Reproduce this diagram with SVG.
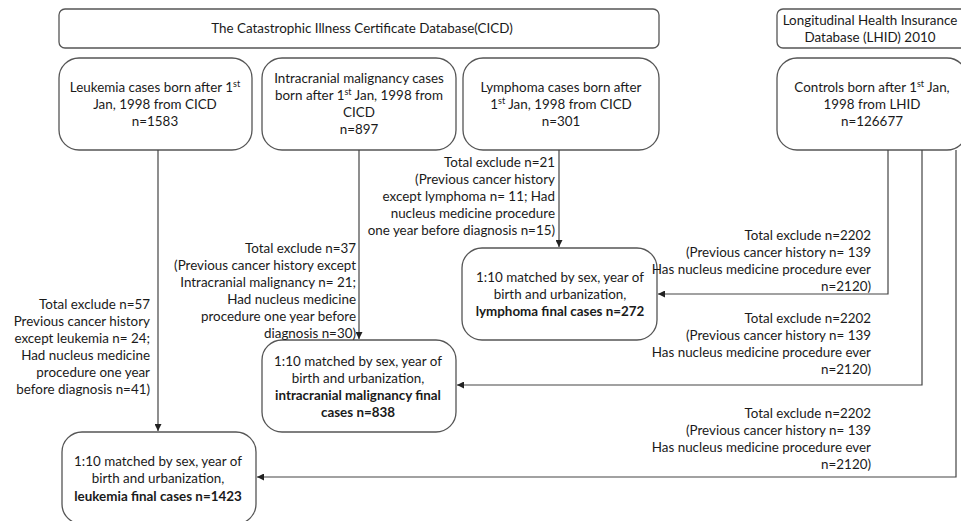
<svg xmlns="http://www.w3.org/2000/svg" width="961" height="521" viewBox="0 0 961 521">
<defs>
<marker id="arr" viewBox="0 0 10 10" refX="10" refY="5" markerWidth="7" markerHeight="7" markerUnits="userSpaceOnUse" orient="auto">
<path d="M0,0 L10,5 L0,10 z" fill="#222"/>
</marker>
<style>
.box{fill:#fff;stroke:#555;stroke-width:1.3}
.t{font-family:Lato,"Liberation Sans",sans-serif;font-size:13.4px;fill:#1a1a1a}
.c{text-anchor:middle}
.r{text-anchor:end}
.b{font-weight:bold}
.sup{font-size:9px}
.ln{fill:none;stroke:#444;stroke-width:1.2}
</style>
</defs>
<rect width="961" height="521" fill="#fff"/>

<g id="cicd">
<rect class="box" x="59" y="9" width="600" height="39" rx="6"/>
<text class="t c" x="362" y="33">The Catastrophic Illness Certificate Database(CICD)</text>
</g>
<g id="lhid">
<rect class="box" x="777" y="9" width="190" height="39" rx="6"/>
<text class="t c" x="870" y="25">Longitudinal Health Insurance</text>
<text class="t c" x="870" y="42">Database (LHID) 2010</text>
</g>

<g id="leukemia">
<rect class="box" x="59" y="58" width="193" height="92" rx="20"/>
<text class="t c" x="155" y="92">Leukemia cases born after 1<tspan class="sup" dy="-5">st</tspan></text>
<text class="t c" x="155" y="109">Jan, 1998 from CICD</text>
<text class="t c" x="155" y="126">n=1583</text>
</g>
<g id="intracranial">
<rect class="box" x="262" y="58" width="194" height="92" rx="20"/>
<text class="t c" x="359" y="83">Intracranial malignancy cases</text>
<text class="t c" x="359" y="100">born after 1<tspan class="sup" dy="-5">st</tspan><tspan dy="5"> Jan, 1998 from</tspan></text>
<text class="t c" x="359" y="117">CICD</text>
<text class="t c" x="359" y="134">n=897</text>
</g>
<g id="lymphoma">
<rect class="box" x="463" y="58" width="196" height="92" rx="20"/>
<text class="t c" x="561" y="92">Lymphoma cases born after</text>
<text class="t c" x="561" y="109">1<tspan class="sup" dy="-5">st</tspan><tspan dy="5"> Jan, 1998 from CICD</tspan></text>
<text class="t c" x="561" y="126">n=301</text>
</g>
<g id="controls">
<rect class="box" x="777" y="58" width="190" height="92" rx="20"/>
<text class="t c" x="872" y="92">Controls born after 1<tspan class="sup" dy="-5">st</tspan><tspan dy="5"> Jan,</tspan></text>
<text class="t c" x="872" y="109">1998 from LHID</text>
<text class="t c" x="872" y="126">n=126677</text>
</g>

<g id="lymphoma-final">
<rect class="box" x="462" y="248" width="195" height="92" rx="20"/>
<text class="t c" x="560" y="282">1:10 matched by sex, year of</text>
<text class="t c" x="560" y="299">birth and urbanization,</text>
<text class="t c b" x="560" y="316">lymphoma final cases n=272</text>
</g>
<g id="intracranial-final">
<rect class="box" x="262" y="340" width="194" height="92" rx="20"/>
<text class="t c" x="358" y="366">1:10 matched by sex, year of</text>
<text class="t c" x="358" y="383">birth and urbanization,</text>
<text class="t c b" x="358" y="400">intracranial malignancy final</text>
<text class="t c b" x="358" y="417">cases n=838</text>
</g>
<g id="leukemia-final">
<rect class="box" x="62" y="432" width="194" height="92" rx="20"/>
<text class="t c" x="158" y="466">1:10 matched by sex, year of</text>
<text class="t c" x="158" y="483">birth and urbanization,</text>
<text class="t c b" x="158" y="501">leukemia final cases n=1423</text>
</g>

<g id="connectors">
<line class="ln" x1="158" y1="150" x2="158" y2="431" marker-end="url(#arr)"/>
<line class="ln" x1="359" y1="150" x2="359" y2="339" marker-end="url(#arr)"/>
<line class="ln" x1="559" y1="150" x2="559" y2="247" marker-end="url(#arr)"/>
<polyline class="ln" points="888,150 888,294 658,294" marker-end="url(#arr)"/>
<polyline class="ln" points="922,150 922,385 457,385" marker-end="url(#arr)"/>
<polyline class="ln" points="956,150 956,477 257,477" marker-end="url(#arr)"/>
</g>

<g id="labels">
<text class="t r" x="555" y="167">Total exclude n=21</text>
<text class="t r" x="555" y="184">(Previous  cancer history</text>
<text class="t r" x="555" y="201">except lymphoma n= 11; Had</text>
<text class="t r" x="555" y="218">nucleus medicine procedure</text>
<text class="t r" x="555" y="235">one year before diagnosis n=15)</text>

<text class="t r" x="356" y="253">Total exclude n=37</text>
<text class="t r" x="356" y="270">(Previous cancer history except</text>
<text class="t r" x="356" y="287">Intracranial malignancy n= 21;</text>
<text class="t r" x="356" y="304">Had nucleus medicine</text>
<text class="t r" x="356" y="321">procedure one year before</text>
<text class="t r" x="356" y="338">diagnosis n=30)</text>

<text class="t r" x="150" y="309">Total exclude n=57</text>
<text class="t r" x="150" y="326">Previous  cancer history</text>
<text class="t r" x="150" y="343">except leukemia  n= 24;</text>
<text class="t r" x="150" y="360">Had nucleus medicine</text>
<text class="t r" x="150" y="377">procedure one year</text>
<text class="t r" x="150" y="394">before diagnosis n=41)</text>

<text class="t r" x="871" y="240">Total exclude n=2202</text>
<text class="t r" x="871" y="257">(Previous cancer history n= 139</text>
<text class="t r" x="871" y="274">Has nucleus medicine procedure ever</text>
<text class="t r" x="871" y="291">n=2120)</text>

<text class="t r" x="871" y="323">Total exclude n=2202</text>
<text class="t r" x="871" y="340">(Previous cancer history n= 139</text>
<text class="t r" x="871" y="357">Has nucleus medicine procedure ever</text>
<text class="t r" x="871" y="374">n=2120)</text>

<text class="t r" x="871" y="418">Total exclude n=2202</text>
<text class="t r" x="871" y="435">(Previous cancer history n= 139</text>
<text class="t r" x="871" y="452">Has nucleus medicine procedure ever</text>
<text class="t r" x="871" y="469">n=2120)</text>
</g>
</svg>
